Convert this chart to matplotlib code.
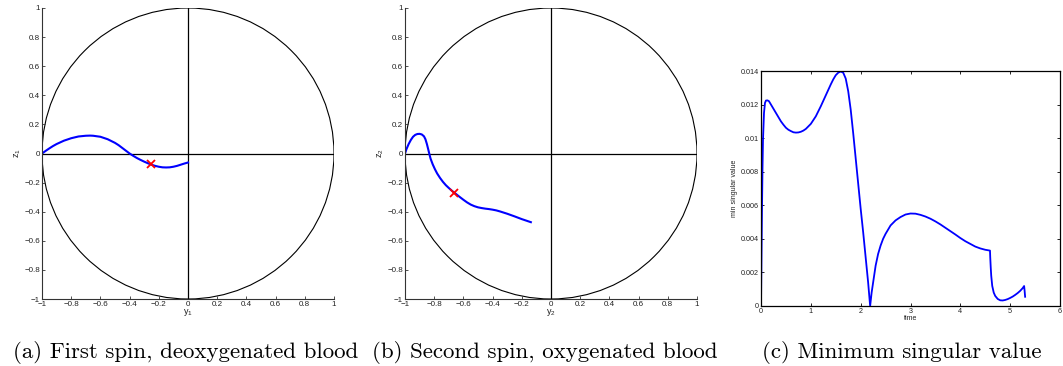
import numpy as np
import matplotlib
matplotlib.use("Agg")
import matplotlib.pyplot as plt
from matplotlib.patches import Circle

# ---- data ----
spin1_y = [-1.0, -0.975, -0.95, -0.925, -0.9, -0.85, -0.8, -0.75, -0.7, -0.67, -0.65, -0.6, -0.55, -0.5, -0.475, -0.45, -0.425,
           -0.4, -0.375, -0.35, -0.325, -0.3, -0.275, -0.25, -0.225, -0.2, -0.175, -0.15, -0.125, -0.1, -0.075, -0.05, -0.025, 0.0]
spin1_z = [0.0, 0.018, 0.035, 0.051, 0.065, 0.088, 0.105, 0.117, 0.122, 0.123, 0.122, 0.115, 0.098, 0.073, 0.057, 0.038, 0.019,
           0.0, -0.016, -0.031, -0.044, -0.056, -0.067, -0.077, -0.085, -0.091, -0.095, -0.096, -0.095, -0.091, -0.085, -0.077, -0.069, -0.062]
spin1_mark = (-0.256, -0.075)

spin2_y = [-1.0, -0.99, -0.975, -0.96, -0.945, -0.93, -0.915, -0.9, -0.885, -0.87, -0.86, -0.85, -0.84, -0.834, -0.825, -0.81, -0.795,
           -0.78, -0.76, -0.74, -0.72, -0.7, -0.68, -0.66, -0.63, -0.6, -0.575, -0.55, -0.525, -0.5, -0.475, -0.45, -0.425, -0.4,
           -0.375, -0.35, -0.3, -0.25, -0.2, -0.138]
spin2_z = [0.0, 0.03, 0.065, 0.093, 0.115, 0.128, 0.134, 0.135, 0.131, 0.118, 0.098, 0.065, 0.025, 0.0, -0.035, -0.075, -0.108,
           -0.137, -0.168, -0.195, -0.218, -0.237, -0.255, -0.271, -0.295, -0.318, -0.336, -0.351, -0.362, -0.370, -0.375, -0.379, -0.382, -0.386,
           -0.391, -0.398, -0.414, -0.432, -0.451, -0.472]
spin2_mark = (-0.662, -0.271)

t_vals = [0.0, 0.01, 0.02, 0.03, 0.04, 0.06, 0.08, 0.1, 0.13, 0.16, 0.2, 0.25, 0.3, 0.35, 0.4, 0.45, 0.5, 0.55, 0.6, 0.65, 0.7,
          0.75, 0.8, 0.85, 0.9, 1.0, 1.1, 1.2, 1.3, 1.4, 1.45, 1.5, 1.55, 1.6, 1.65, 1.7, 1.75, 1.8, 1.85, 1.9, 1.95, 2.0, 2.05,
          2.1, 2.15, 2.19, 2.22, 2.25, 2.3, 2.35, 2.4, 2.45, 2.5, 2.6, 2.7, 2.8, 2.9, 3.0, 3.1, 3.2, 3.3, 3.4, 3.5, 3.6, 3.7, 3.8,
          3.9, 4.0, 4.1, 4.2, 4.3, 4.4, 4.5, 4.595, 4.6, 4.61, 4.62, 4.64, 4.67, 4.7, 4.75, 4.8, 4.85, 4.9, 4.95, 5.0, 5.05, 5.1,
          5.15, 5.2, 5.25, 5.28, 5.29, 5.3]
sv_vals = [0.0, 0.003, 0.0058, 0.0082, 0.0099, 0.0115, 0.0121, 0.01224, 0.01225, 0.0122, 0.0120, 0.01175, 0.0115, 0.01125, 0.0110,
           0.0108, 0.01062, 0.0105, 0.01042, 0.01035, 0.01033, 0.01034, 0.01038, 0.01045, 0.01055, 0.01085, 0.0113, 0.0119, 0.01255,
           0.0132, 0.0135, 0.01375, 0.0139, 0.01397, 0.0139, 0.01355, 0.0128, 0.0117, 0.0103, 0.0088, 0.0073, 0.0058, 0.0044, 0.0029,
           0.0014, 0.0, 0.0008, 0.0014, 0.0024, 0.0031, 0.0036, 0.0040, 0.0043, 0.0048, 0.0051, 0.0053, 0.00545, 0.00551, 0.0055,
           0.00543, 0.00533, 0.0052, 0.00504, 0.00486, 0.00466, 0.00446, 0.00426, 0.00405, 0.00386, 0.0037, 0.00354, 0.00343, 0.00335,
           0.0033, 0.0029, 0.0023, 0.0018, 0.0012, 0.0008, 0.0006, 0.00042, 0.00034, 0.00033, 0.00036, 0.00041, 0.00048, 0.00056,
           0.00066, 0.00077, 0.0009, 0.00106, 0.00119, 0.0009, 0.00055]

captions = ["(a) First spin, deoxygenated blood", "(b) Second spin, oxygenated blood", "(c) Minimum singular value"]
circle_ticks = [-1, -0.8, -0.6, -0.4, -0.2, 0, 0.2, 0.4, 0.6, 0.8, 1]
circle_ticklabels = ["\u22121", "\u22120.8", "\u22120.6", "\u22120.4", "\u22120.2", "0", "0.2", "0.4", "0.6", "0.8", "1"]
sv_xticks = [0, 1, 2, 3, 4, 5, 6]
sv_yticks = [0, 0.002, 0.004, 0.006, 0.008, 0.01, 0.012, 0.014]
sv_yticklabels = ["0", "0.002", "0.004", "0.006", "0.008", "0.01", "0.012", "0.014"]

W, H = 1063, 366
fig = plt.figure(figsize=(W / 100, H / 100), dpi=100)
plt.rcParams['font.family'] = ['Liberation Sans', 'DejaVu Sans']
plt.rcParams['mathtext.fontset'] = 'custom'
plt.rcParams['mathtext.rm'] = 'Liberation Sans'
plt.rcParams['mathtext.it'] = 'Liberation Sans'
tick_fs = 5.8
blue = (0, 0, 1)
grey = '#333333'

def circle_axes(left_px, ys, zs, mark, idx):
    ax = fig.add_axes([left_px / W, 1 - 299 / H, 292 / W, 291 / H])
    ax.add_patch(Circle((0, 0), 1, fill=False, edgecolor='black', lw=0.8))
    ax.axhline(0, color='black', lw=0.9)
    ax.axvline(0, color='black', lw=0.9)
    ax.plot(ys, zs, color=blue, lw=1.5, solid_joinstyle='round')
    ax.plot([mark[0]], [mark[1]], marker='x', color='red', ms=5.5, mew=1.3, ls='none')
    ax.set_xlim(-1, 1)
    ax.set_ylim(-1, 1)
    ax.set_xticks(circle_ticks)
    ax.set_xticklabels(circle_ticklabels)
    ax.set_yticks(circle_ticks)
    ax.set_yticklabels(circle_ticklabels)
    for s in ['top', 'right']:
        ax.spines[s].set_visible(False)
    for s in ['left', 'bottom']:
        ax.spines[s].set_linewidth(0.8)
        ax.spines[s].set_color(grey)
    ax.tick_params(direction='in', length=2, width=0.6, labelsize=tick_fs, pad=1.5, colors=grey, labelcolor='#222222')
    ax.set_xlabel(r'$\mathrm{y}_%d$' % idx, fontsize=6.5, labelpad=-1, color='#222222')
    ax.set_ylabel(r'$\mathrm{z}_%d$' % idx, fontsize=6.5, labelpad=1, color='#222222')
    return ax

circle_axes(42, spin1_y, spin1_z, spin1_mark, 1)
circle_axes(405, spin2_y, spin2_z, spin2_mark, 2)

axc = fig.add_axes([761 / W, 1 - 306 / H, 299 / W, 235 / H])
axc.plot(t_vals, sv_vals, color=blue, lw=1.3, solid_joinstyle='round')
axc.set_xlim(0, 6)
axc.set_ylim(0, 0.014)
axc.set_xticks(sv_xticks)
axc.set_yticks(sv_yticks)
axc.set_yticklabels(sv_yticklabels)
axc.tick_params(direction='in', length=2, width=0.6, labelsize=5.2, pad=1.5, top=True, right=True, colors='black', labelcolor='#222222')
for s in axc.spines.values():
    s.set_linewidth(0.9)
axc.set_xlabel('time', fontsize=5, labelpad=0, color='#222222')
axc.set_ylabel('min singular value', fontsize=5, labelpad=2, color='#222222')

cap_x = [186, 545, 902]
for cx, txt in zip(cap_x, captions):
    fig.text(cx / W, 1 - 352 / H, txt, ha='center', va='center', fontsize=16.5, family='cmr10')

fig.savefig('out.png', dpi=100)
